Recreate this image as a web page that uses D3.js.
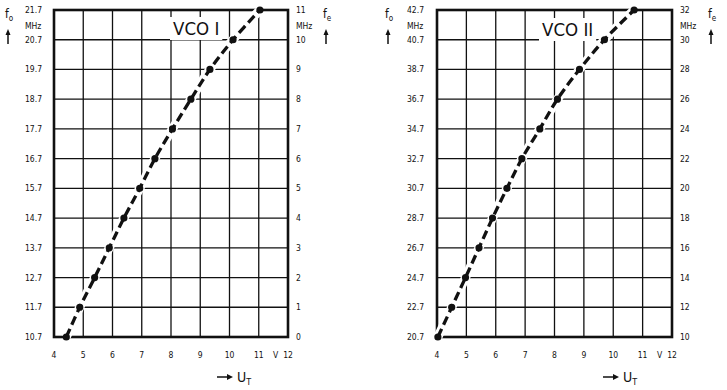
<!DOCTYPE html>
<html><head><meta charset="utf-8">
<script src="https://cdn.jsdelivr.net/npm/d3@7"></script>
<style>
html,body{margin:0;padding:0;background:#fff;}
svg{display:block;}
text{font-family:"DejaVu Sans Condensed","Liberation Sans Narrow","DejaVu Sans",sans-serif;fill:#111;}
</style></head>
<body>
<svg id="chart" width="727" height="390"></svg>
<script>
// ---- data ----
const voltageTicks = [4, 5, 6, 7, 8, 9, 10, 11, 12];

const vco1Title = "VCO I";
const vco1Voltage = [4.42, 4.88, 5.39, 5.89, 6.39, 6.93, 7.45, 8.05, 8.68, 9.33, 10.12, 11.04];
const vco1Fe = [0, 1, 2, 3, 4, 5, 6, 7, 8, 9, 10, 11];
const vco1FeTicks = [0, 1, 2, 3, 4, 5, 6, 7, 8, 9, 10, 11];
const vco1FoTicks = ["10.7", "11.7", "12.7", "13.7", "14.7", "15.7", "16.7", "17.7", "18.7", "19.7", "20.7", "21.7"];

const vco2Title = "VCO II";
const vco2Voltage = [4.03, 4.50, 4.97, 5.43, 5.89, 6.38, 6.89, 7.50, 8.10, 8.85, 9.70, 10.71];
const vco2Fe = [10, 12, 14, 16, 18, 20, 22, 24, 26, 28, 30, 32];
const vco2FeTicks = [10, 12, 14, 16, 18, 20, 22, 24, 26, 28, 30, 32];
const vco2FoTicks = ["20.7", "22.7", "24.7", "26.7", "28.7", "30.7", "32.7", "34.7", "36.7", "38.7", "40.7", "42.7"];

// ---- drawing ----
const svg = d3.select("#chart");

function drawChart(cfg) {
  const g = svg.append("g");
  const x = d3.scaleLinear().domain([4, 12]).range([cfg.x0, cfg.x1]);
  const y = d3.scaleLinear().domain(d3.extent(cfg.feTicks)).range([cfg.y1, cfg.y0]);

  // grid
  g.selectAll(".vg").data(voltageTicks).enter().append("line")
    .attr("x1", d => x(d)).attr("x2", d => x(d))
    .attr("y1", cfg.y0).attr("y2", cfg.y1)
    .attr("stroke", "#111").attr("stroke-width", 1.3);
  g.selectAll(".hg").data(cfg.feTicks).enter().append("line")
    .attr("x1", cfg.x0).attr("x2", cfg.x1)
    .attr("y1", d => y(d)).attr("y2", d => y(d))
    .attr("stroke", "#111").attr("stroke-width", 1.3);

  // frame
  g.append("rect").attr("x", cfg.x0).attr("y", cfg.y0)
    .attr("width", cfg.x1 - cfg.x0).attr("height", cfg.y1 - cfg.y0)
    .attr("fill", "none").attr("stroke", "#111").attr("stroke-width", 2.6);

  // title with white background
  const t = g.append("text").attr("x", cfg.titleX).attr("y", cfg.titleY)
    .attr("font-size", 18.5).text(cfg.title);
  const bb = t.node().getBBox();
  g.insert("rect", "text").attr("x", bb.x - 3).attr("y", bb.y - 1)
    .attr("width", bb.width + 6).attr("height", bb.height + 2).attr("fill", "#fff");

  // curve
  const pts = cfg.volt.map((v, i) => [x(v), y(cfg.fe[i])]);
  const line = d3.line().curve(d3.curveCatmullRom.alpha(0.5));
  g.append("path").attr("d", line(pts)).attr("fill", "none")
    .attr("stroke", "#fff").attr("stroke-width", 9);
  g.append("path").attr("d", line(pts)).attr("fill", "none")
    .attr("stroke", "#111").attr("stroke-width", 3.3)
    .attr("stroke-dasharray", "9,4.5");
  g.selectAll(".dot").data(pts).enter().append("circle")
    .attr("cx", d => d[0]).attr("cy", d => d[1]).attr("r", 3.6).attr("fill", "#111");

  // left axis labels (fo)
  g.selectAll(".lt").data(cfg.foTicks).enter().append("text")
    .attr("x", cfg.leftLabelX).attr("y", (d, i) => y(cfg.feTicks[i]) + 3)
    .attr("font-size", 8.5).text(d => d);
  // right axis labels (fe)
  g.selectAll(".rt").data(cfg.feTicks).enter().append("text")
    .attr("x", cfg.x1 + 8).attr("y", d => y(d) + 3)
    .attr("font-size", 8.5).text(d => d);

  // MHz units
  g.append("text").attr("x", cfg.leftLabelX).attr("y", y(cfg.feTicks[cfg.feTicks.length - 1]) + 19)
    .attr("font-size", 8.5).text("MHz");
  g.append("text").attr("x", cfg.x1 + 8).attr("y", y(cfg.feTicks[cfg.feTicks.length - 1]) + 19)
    .attr("font-size", 8.5).text("MHz");

  // bottom labels
  g.selectAll(".bt").data(voltageTicks).enter().append("text")
    .attr("x", d => x(d)).attr("y", cfg.y1 + 21)
    .attr("text-anchor", "middle").attr("font-size", 8.5).text(d => d);
  g.append("text").attr("x", x(11.58)).attr("y", cfg.y1 + 21)
    .attr("text-anchor", "middle").attr("font-size", 8.5).text("V");

  // f_o / f_e symbols with arrows
  function sym(px, py, sub) {
    const tx = g.append("text").attr("x", px).attr("y", py).attr("font-size", 12);
    tx.append("tspan").text("f");
    tx.append("tspan").attr("font-size", 8).attr("dy", 2.5).text(sub);
    const ax = px + 3;
    g.append("line").attr("x1", ax).attr("x2", ax).attr("y1", py + 26).attr("y2", py + 15)
      .attr("stroke", "#111").attr("stroke-width", 1.5);
    g.append("path").attr("d", `M${ax - 2.5},${py + 17} L${ax},${py + 11} L${ax + 2.5},${py + 17} Z`)
      .attr("fill", "#111");
  }
  sym(cfg.foX, 18, "o");
  sym(cfg.feX, 18, "e");

  // U_T label
  const ux = cfg.utX;
  g.append("line").attr("x1", ux).attr("x2", ux + 12).attr("y1", 377).attr("y2", 377)
    .attr("stroke", "#111").attr("stroke-width", 1.5);
  g.append("path").attr("d", `M${ux + 10},${374} L${ux + 16},${377} L${ux + 10},${380} Z`).attr("fill", "#111");
  const ut = g.append("text").attr("x", ux + 20).attr("y", 382).attr("font-size", 14);
  ut.append("tspan").text("U");
  ut.append("tspan").attr("font-size", 9).attr("dy", 3).text("T");
}

drawChart({
  title: vco1Title, volt: vco1Voltage, fe: vco1Fe, feTicks: vco1FeTicks, foTicks: vco1FoTicks,
  x0: 54, x1: 288, y0: 10, y1: 337, titleX: 173, titleY: 35,
  leftLabelX: 25, foX: 5, feX: 323, utX: 217
});
drawChart({
  title: vco2Title, volt: vco2Voltage, fe: vco2Fe, feTicks: vco2FeTicks, foTicks: vco2FoTicks,
  x0: 437, x1: 672, y0: 10, y1: 337, titleX: 542, titleY: 36,
  leftLabelX: 407, foX: 385, feX: 708, utX: 603
});
</script>
</body></html>
